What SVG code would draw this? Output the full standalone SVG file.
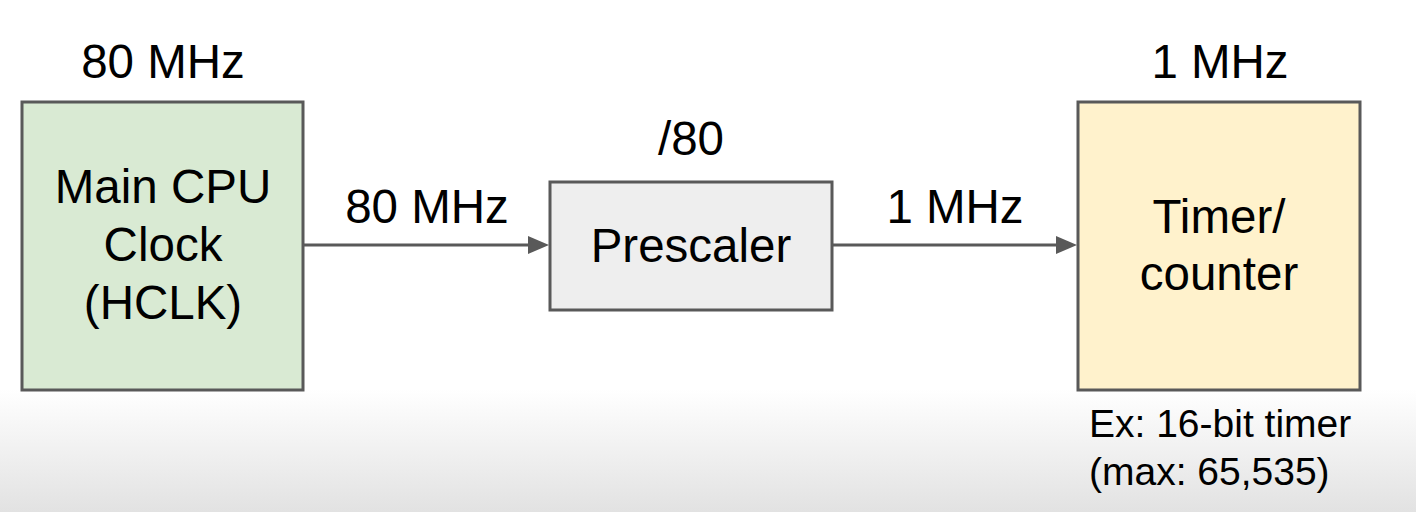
<svg xmlns="http://www.w3.org/2000/svg" width="1416" height="512" viewBox="0 0 1416 512">
<defs>
<linearGradient id="bg" x1="0" y1="0" x2="0" y2="1">
<stop offset="0" stop-color="#ffffff"/>
<stop offset="0.76" stop-color="#ffffff"/>
<stop offset="1" stop-color="#e2e2e2"/>
</linearGradient>
<style>
.box{stroke:#595959;stroke-width:3}
.t{font-family:"Liberation Sans",Arial,sans-serif;fill:#000;text-anchor:middle}
.big{font-size:47.5px}
.small{font-size:39px}
.l{text-anchor:start}
.conn{stroke:#595959;stroke-width:3;fill:none}
.head{fill:#595959}
</style>
</defs>
<rect x="0" y="0" width="1416" height="512" fill="url(#bg)"/>
<g id="labels-top">
<text class="t big" x="163" y="78">80 MHz</text>
<text class="t big" x="1220" y="78">1 MHz</text>
</g>
<g id="cpu-clock">
<rect class="box" x="22" y="102" width="281" height="288" fill="#d9ead3"/>
<text class="t big" x="163" y="203">Main CPU</text>
<text class="t big" x="163" y="261">Clock</text>
<text class="t big" x="163" y="319">(HCLK)</text>
</g>
<g id="prescaler">
<text class="t big" x="691" y="155">/80</text>
<rect class="box" x="550" y="182" width="282" height="128" fill="#eeeeee"/>
<text class="t big" x="691" y="262">Prescaler</text>
</g>
<g id="timer">
<rect class="box" x="1078" y="102" width="282" height="288" fill="#fff2cc"/>
<text class="t big" x="1219" y="233">Timer/</text>
<text class="t big" x="1219" y="290">counter</text>
<text class="t small l" x="1089" y="437">Ex: 16-bit timer</text>
<text class="t small l" x="1089" y="485">(max: 65,535)</text>
</g>
<g id="connectors">
<line class="conn" x1="303" y1="245" x2="530" y2="245"/>
<path class="head" d="M528,236 L549,245 L528,254 Z"/>
<line class="conn" x1="832" y1="245" x2="1058" y2="245"/>
<path class="head" d="M1056,236 L1077,245 L1056,254 Z"/>
<text class="t big" x="427" y="223">80 MHz</text>
<text class="t big" x="955" y="223">1 MHz</text>
</g>
</svg>
